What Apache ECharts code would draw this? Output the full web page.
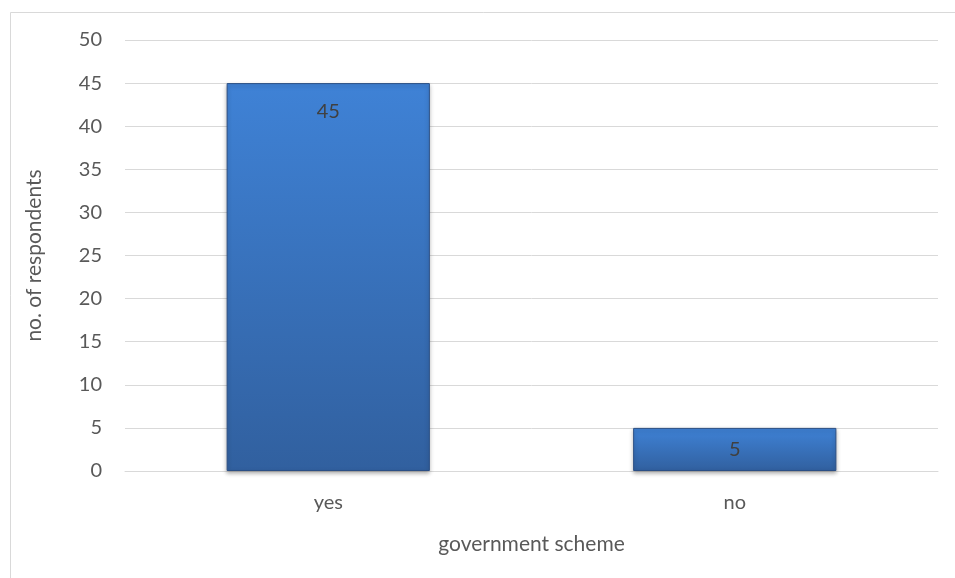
<!DOCTYPE html>
<html>
<head>
<meta charset="utf-8">
<script src="https://cdn.jsdelivr.net/npm/echarts@6/dist/echarts.min.js"></script>
<style>
  html, body { margin: 0; padding: 0; background: #fff; }
  #chart { width: 955px; height: 578px; }
</style>
</head>
<body>
<div id="chart"></div>
<script>
// Responses on awareness of the government scheme
const categories = ['yes', 'no'];
const respondents = [45, 5];
const yTicks = { min: 0, max: 50, interval: 5 };
const xTitle = 'government scheme';
const yTitle = 'no. of respondents';

const FONT = 'Lato';
const FS = 20;
const TITLE_FS = 21;
const chart = echarts.init(document.getElementById('chart'), null, { renderer: 'canvas' });

chart.setOption({
  backgroundColor: '#ffffff',
  animation: false,
  graphic: [{
    type: 'rect',
    left: 8, top: 10,
    shape: { width: 960, height: 580 },
    style: { fill: 'none', stroke: '#d9d9d9', lineWidth: 1 },
    silent: true
  }],
  grid: { left: 125, right: 17, top: 40, bottom: 107 },
  xAxis: {
    type: 'category',
    data: categories,
    name: xTitle,
    nameLocation: 'middle',
    nameGap: 63,
    nameTextStyle: { color: '#595959', fontSize: TITLE_FS, fontFamily: FONT },
    axisLine: { lineStyle: { color: '#d9d9d9', width: 1 } },
    axisTick: { show: false },
    axisLabel: { color: '#595959', fontSize: FS, fontFamily: FONT, margin: 22 }
  },
  yAxis: {
    type: 'value',
    min: yTicks.min, max: yTicks.max, interval: yTicks.interval,
    name: yTitle,
    nameLocation: 'middle',
    nameGap: 80,
    nameTextStyle: { color: '#595959', fontSize: TITLE_FS, fontFamily: FONT },
    axisLine: { show: false },
    axisTick: { show: false },
    axisLabel: { color: '#595959', fontSize: FS, fontFamily: FONT, margin: 23 },
    splitLine: { lineStyle: { color: '#d9d9d9', width: 1 } }
  },
  series: [{
    type: 'bar',
    data: respondents.map(v => ({
      value: v,
      label: { position: v < 10 ? 'inside' : 'insideTop' }
    })),
    barWidth: '50%',
    itemStyle: {
      color: new echarts.graphic.LinearGradient(0, 0, 0, 1, [
        { offset: 0, color: '#3f82d6' },
        { offset: 1, color: '#31609f' }
      ]),
      borderColor: '#2b4f85',
      borderWidth: 1,
      shadowColor: 'rgba(0,0,0,0.3)',
      shadowBlur: 4,
      shadowOffsetY: 2
    },
    label: {
      show: true,
      position: 'insideTop',
      distance: 18,
      color: '#404040',
      fontSize: FS,
      fontFamily: FONT
    }
  }]
});
</script>
</body>
</html>
